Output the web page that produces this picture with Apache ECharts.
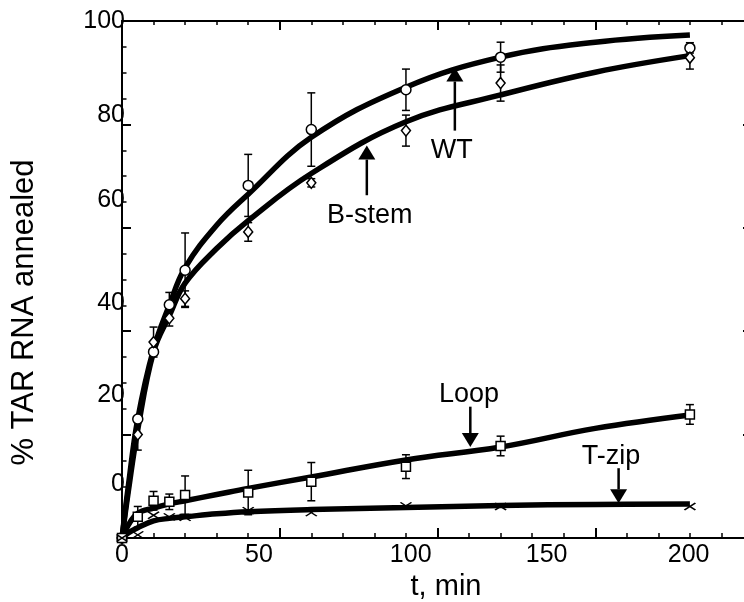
<!DOCTYPE html>
<html><head><meta charset="utf-8">
<script src="https://cdn.jsdelivr.net/npm/echarts@6/dist/echarts.min.js"></script>
<style>html,body{margin:0;padding:0;background:#fff}#c{width:744px;height:602px}</style>
</head><body><div id="c"></div>
<script>
// ---- data ----
const timePoints = [0, 5, 10, 15, 20, 40, 60, 90, 120, 180];
const wtValues    = [0, 23.0, 36.0, 45.1, 51.8, 68.2, 79.0, 86.7, 93.0, 94.8];
const wtErrors    = [0, 0, 0, 2.4, 7.2, 6.0, 7.1, 4.0, 2.9, 1.0];
const bstemValues = [0, 20.0, 37.9, 42.5, 46.3, 59.2, 68.7, 78.8, 88.0, 92.9];
const bstemErrors = [0, 3.0, 2.9, 1.5, 1.5, 1.8, 0.8, 3.0, 3.5, 2.2];
const loopValues  = [0, 4.1, 7.2, 7.0, 8.3, 8.8, 10.9, 13.8, 17.8, 23.9];
const loopErrors  = [0, 2.0, 1.8, 1.5, 3.7, 4.3, 3.7, 2.3, 1.9, 1.9];
const tzipValues  = [0, 0.6, 4.4, 4.1, 4.0, 5.3, 4.9, 6.2, 6.1, 6.1];

const fitTimes  = [0, 2, 5, 10, 15, 20, 30, 40, 60, 90, 120, 150, 180];
const wtFit     = [0, 10, 23, 36.5, 45, 52.3, 60.5, 66.5, 77.5, 87.2, 93, 95.9, 97.3];
const bstemFit  = [0, 9, 21, 36, 43, 49.3, 56, 61.4, 70.5, 80.5, 85.7, 90.1, 93.3];
const loopFit   = [0, 2.5, 4.8, 5.8, 6.6, 7.2, 8.4, 9.6, 11.8, 15.1, 17.6, 21.2, 23.8];
const tzipFit   = [0, 1, 2, 3.3, 3.8, 4.1, 4.7, 5.1, 5.5, 5.9, 6.3, 6.5, 6.6];

const xTickLabels = ['0', '50', '100', '150', '200'];
const yTickLabels = ['0', '20', '40', '60', '80', '100'];
const seriesNames = ['WT', 'B-stem', 'Loop', 'T-zip'];

// ---- layout (where the reference prints its labels / annotations) ----
const xLabelAt = [0, 43.4, 91.5, 134.6, 179.6];
const yLabelAt = [10.4, 27.7, 45.4, 65.4, 81.8, 100];
// [t of arrow, value at tip, value at tail, t of text, value of text]
const annoPos = [
  [105.5, 91.0, 78.8, 104.5, 75.0],
  [77.6, 75.9, 66.3, 78.5, 62.4],
  [110.4, 17.6, 25.4, 110.0, 27.8],
  [157.4, 6.7, 13.5, 155.0, 15.8]
];

const FONT = "'Liberation Sans', Arial, Helvetica, sans-serif";
const pairs = (xs, ys) => xs.map((x, i) => [x, ys[i]]);
const triples = (xs, ys, es) => xs.map((x, i) => [x, ys[i], es[i]]);

function tickAxis(pos, major, minor) {
  const horiz = pos === 'top' || pos === 'bottom';
  return {
    type: 'value', min: 0, max: horiz ? 200 : 100,
    interval: horiz ? 50 : 20,
    position: pos,
    axisLine: { show: true, onZero: false, lineStyle: { color: '#000', width: 2 } },
    axisTick: { show: true, inside: true, length: major, lineStyle: { color: '#000', width: 2 } },
    minorTick: { show: true, splitNumber: horiz ? 5 : 4, length: minor, lineStyle: { color: '#000', width: 1.5 } },
    axisLabel: { show: false },
    splitLine: { show: false }, minorSplitLine: { show: false }
  };
}

function errRender(params, api) {
  const t = api.value(0), v = api.value(1), e = api.value(2);
  if (!e) return null;
  const top = api.coord([t, v + e]), bot = api.coord([t, v - e]);
  const hw = 4, st = { stroke: '#000', lineWidth: 1.5 };
  return { type: 'group', children: [
    { type: 'line', shape: { x1: top[0], y1: top[1], x2: bot[0], y2: bot[1] }, style: st },
    { type: 'line', shape: { x1: top[0] - hw, y1: top[1], x2: top[0] + hw, y2: top[1] }, style: st },
    { type: 'line', shape: { x1: bot[0] - hw, y1: bot[1], x2: bot[0] + hw, y2: bot[1] }, style: st }
  ]};
}

function annoRender(params, api) {
  const i = params.dataIndex;
  const tip = api.coord([api.value(0), api.value(1)]);
  const tail = api.coord([api.value(0), api.value(2)]);
  const txt = api.coord([api.value(3), api.value(4)]);
  const dir = tip[1] < tail[1] ? -1 : 1;
  const hh = 14, hw = 8.5;
  const base = tip[1] - dir * hh;
  return { type: 'group', children: [
    { type: 'line', shape: { x1: tail[0], y1: tail[1], x2: tip[0], y2: base }, style: { stroke: '#000', lineWidth: 2.5 } },
    { type: 'polygon', shape: { points: [[tip[0], tip[1]], [tip[0] - hw, base], [tip[0] + hw, base]] }, style: { fill: '#000' } },
    { type: 'text', x: txt[0], y: txt[1], style: { text: seriesNames[i], font: '27px ' + FONT, fill: '#000', align: 'center', verticalAlign: 'middle' } }
  ]};
}

function fitLine(name, data) {
  return { name: name + ' fit', type: 'line', data: data, smooth: 0.4, showSymbol: false, symbol: 'none',
    lineStyle: { color: '#000', width: 5.5 }, z: 2, xAxisIndex: 0, yAxisIndex: 0, silent: true };
}
function errSeries(xs, ys, es) {
  return { type: 'custom', data: triples(xs, ys, es), renderItem: errRender, z: 3, xAxisIndex: 0, yAxisIndex: 0, silent: true };
}
function pts(name, data, symbol, size) {
  return { name: name, type: 'scatter', data: data, symbol: symbol, symbolSize: size, z: 4,
    itemStyle: { color: '#fff', borderColor: '#000', borderWidth: 1.5, opacity: 1 }, xAxisIndex: 0, yAxisIndex: 0 };
}

const chart = echarts.init(document.getElementById('c'), null, { renderer: 'canvas' });
chart.setOption({
  animation: false,
  backgroundColor: '#fff',
  textStyle: { fontFamily: FONT },
  grid: { left: 122, right: -9, top: 21, bottom: 64, outerBoundsMode: 'none' },
  xAxis: [
    tickAxis('bottom', 10, 5),
    tickAxis('top', 9, 4),
    {
      type: 'value', min: 0, max: 200, position: 'bottom',
      axisLine: { show: false, onZero: false }, axisTick: { show: false }, splitLine: { show: false },
      axisLabel: { show: true, customValues: xLabelAt, color: '#000', fontSize: 25, fontFamily: FONT, margin: 5,
        formatter: (v, idx) => { const k = xLabelAt.indexOf(v); return xTickLabels[k >= 0 ? k : idx]; } },
      name: 't, min', nameLocation: 'middle', nameGap: 34,
      nameTextStyle: { color: '#000', fontSize: 29, fontFamily: FONT, padding: [0, 0, 0, 17] }
    }
  ],
  yAxis: [
    tickAxis('left', 9, 4.5),
    tickAxis('right', 10, 5),
    {
      type: 'value', min: 0, max: 100, position: 'left',
      axisLine: { show: false, onZero: false }, axisTick: { show: false }, splitLine: { show: false },
      axisLabel: { show: true, customValues: yLabelAt, color: '#000', fontSize: 25, fontFamily: FONT, margin: -3,
        formatter: (v, idx) => { const k = yLabelAt.indexOf(v); return yTickLabels[k >= 0 ? k : idx]; } },
      name: '% TAR RNA annealed', nameLocation: 'middle', nameGap: 82, nameRotate: 90,
      nameTextStyle: { color: '#000', fontSize: 31, fontFamily: FONT, padding: [0, 66, 0, 0] }
    }
  ],
  series: [
    fitLine('WT', pairs(fitTimes, wtFit)),
    fitLine('B-stem', pairs(fitTimes, bstemFit)),
    fitLine('Loop', pairs(fitTimes, loopFit)),
    fitLine('T-zip', pairs(fitTimes, tzipFit)),
    errSeries(timePoints, wtValues, wtErrors),
    errSeries(timePoints, bstemValues, bstemErrors),
    errSeries(timePoints, loopValues, loopErrors),
    pts('WT', pairs(timePoints, wtValues), 'circle', 10),
    pts('B-stem', pairs(timePoints, bstemValues), 'diamond', [9, 11]),
    pts('Loop', pairs(timePoints, loopValues), 'rect', 9),
    pts('T-zip', pairs(timePoints, tzipValues), 'path://M0,0L10,7M0,7L10,0', [11, 7]),
    { type: 'custom', data: annoPos, renderItem: annoRender, z: 5, xAxisIndex: 0, yAxisIndex: 0, silent: true }
  ]
});
</script>
</body></html>
